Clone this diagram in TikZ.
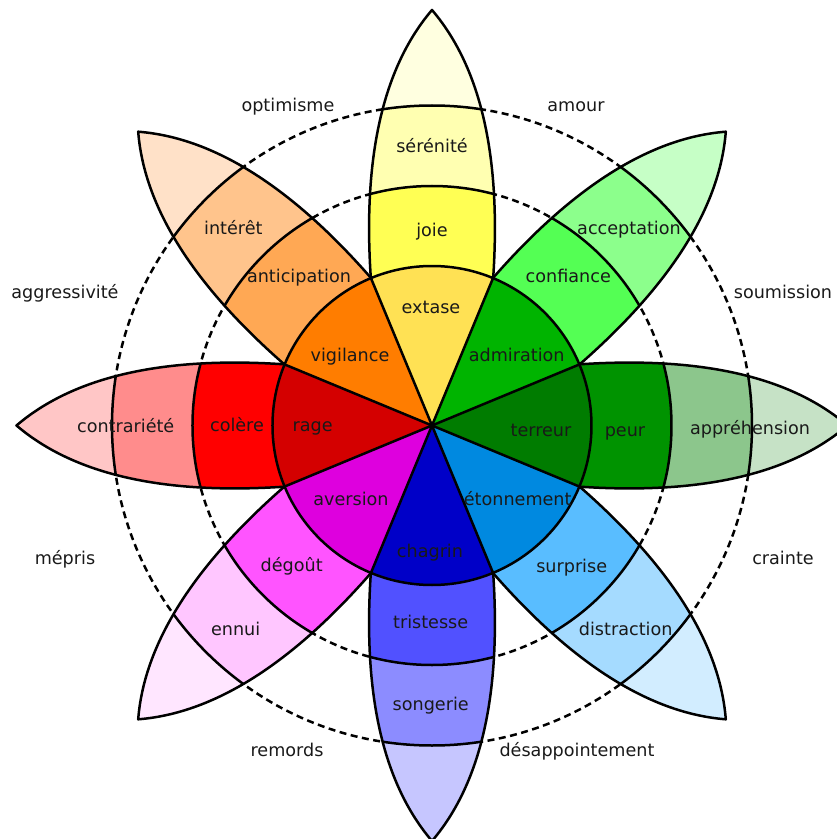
\documentclass[tikz,border=0pt]{standalone}
\usepackage{fontspec}
\setmainfont{DejaVu Sans}
\definecolor{tJoie}{HTML}{FFFFE0}\definecolor{bJoie}{HTML}{FFFFB1}\definecolor{aJoie}{HTML}{FFFF54}\definecolor{wJoie}{HTML}{FFE154}
\definecolor{tConf}{HTML}{C6FFC6}\definecolor{bConf}{HTML}{8CFF8C}\definecolor{aConf}{HTML}{54FF54}\definecolor{wConf}{HTML}{00B400}
\definecolor{tPeur}{HTML}{C6E2C6}\definecolor{bPeur}{HTML}{8CC68C}\definecolor{aPeur}{HTML}{009300}\definecolor{wPeur}{HTML}{007C00}
\definecolor{tSurp}{HTML}{D2EDFF}\definecolor{bSurp}{HTML}{A5DBFF}\definecolor{aSurp}{HTML}{59BDFF}\definecolor{wSurp}{HTML}{0089E0}
\definecolor{tTris}{HTML}{C6C6FF}\definecolor{bTris}{HTML}{8C8CFF}\definecolor{aTris}{HTML}{5151FF}\definecolor{wTris}{HTML}{0000C8}
\definecolor{tDeg}{HTML}{FFE6FF}\definecolor{bDeg}{HTML}{FFC6FF}\definecolor{aDeg}{HTML}{FF54FF}\definecolor{wDeg}{HTML}{DE00DE}
\definecolor{tCol}{HTML}{FFC6C6}\definecolor{bCol}{HTML}{FF8C8C}\definecolor{aCol}{HTML}{FF0000}\definecolor{wCol}{HTML}{D40000}
\definecolor{tAnt}{HTML}{FFE1C8}\definecolor{bAnt}{HTML}{FFC48C}\definecolor{aAnt}{HTML}{FFA854}\definecolor{wAnt}{HTML}{FF7D00}
\tikzset{
  lbl/.style={font=\fontsize{17.6}{20}\selectfont, text height=0.545em, text depth=0pt, inner sep=0pt, text=black!90, yshift=-4pt},
  edgeline/.style={line width=2.5pt, line join=round, draw=black},
  dashring/.style={line width=2.5pt, dash pattern=on 7pt off 4.5pt, draw=black},
}
\newcommand\plutpetalpath{(0,0) -- (61.2,147.8) .. controls (68,250) and (56,350) .. (0,415.5) .. controls (-56,350) and (-68,250) .. (-61.2,147.8) -- cycle}
\newcommand\plutpetal[4]{%
  \begin{scope}[rotate=#1-90]
    \fill[#2] \plutpetalpath;
    \begin{scope}
      \clip \plutpetalpath;
      \fill[#3] (0,0) circle[radius=320];
      \fill[#4] (0,0) circle[radius=239.5];
      \draw[edgeline] (0,0) circle[radius=320] (0,0) circle[radius=239.5];
    \end{scope}
    \draw[edgeline] \plutpetalpath;
  \end{scope}}
\newcommand\plutwedge[2]{%
  \fill[#2] (0,0) -- (#1-22.5:159.5) arc[start angle=#1-22.5, end angle=#1+22.5, radius=159.5] -- cycle;}
\begin{document}
\begin{tikzpicture}[x=1pt,y=1pt]
\useasboundingbox (-432,-413.5) rectangle (405,425.5);
% dashed rings
\draw[dashring] (0,0) circle[radius=239.5];
\draw[dashring] (0,0) circle[radius=320];
% petals
\plutpetal{90}{tJoie}{bJoie}{aJoie}
\plutpetal{45}{tConf}{bConf}{aConf}
\plutpetal{0}{tPeur}{bPeur}{aPeur}
\plutpetal{-45}{tSurp}{bSurp}{aSurp}
\plutpetal{-90}{tTris}{bTris}{aTris}
\plutpetal{-135}{tDeg}{bDeg}{aDeg}
\plutpetal{180}{tCol}{bCol}{aCol}
\plutpetal{135}{tAnt}{bAnt}{aAnt}
% inner wedges
\plutwedge{90}{wJoie}
\plutwedge{45}{wConf}
\plutwedge{0}{wPeur}
\plutwedge{-45}{wSurp}
\plutwedge{-90}{wTris}
\plutwedge{-135}{wDeg}
\plutwedge{180}{wCol}
\plutwedge{135}{wAnt}
\foreach \a in {22.5,67.5,...,337.5} \draw[edgeline] (0,0) -- (\a:159.5);
\draw[edgeline] (0,0) circle[radius=159.5];
% dyad labels
\node[lbl] (optimisme) at (-144,320.5) {optimisme};
\node[lbl] (amour) at (144,320.5) {amour};
\node[lbl] (aggressivite) at (-367,133.5) {aggressivité};
\node[lbl] (soumission) at (351,133.5) {soumission};
\node[lbl] (mepris) at (-367,-132.5) {mépris};
\node[lbl] (crainte) at (351,-132.5) {crainte};
\node[lbl] (remords) at (-145,-324.5) {remords};
\node[lbl] (desappointement) at (145,-324.5) {désappointement};
% petal labels
\node[lbl] (serenite) at (0,279.5) {sérénité};
\node[lbl] (joie) at (0,195.5) {joie};
\node[lbl] (extase) at (-1,119) {extase};
\node[lbl] (acceptation) at (197,198.2) {acceptation};
\node[lbl] (confiance) at (136.3,149.5) {confiance};
\node[lbl] (admiration) at (84.7,70.5) {admiration};
\node[lbl] (apprehension) at (318,-1.8) {appréhension};
\node[lbl] (peur) at (193,-4.5) {peur};
\node[lbl] (terreur) at (109,-3.8) {terreur};
\node[lbl] (distraction) at (193.7,-203.5) {distraction};
\node[lbl] (surprise) at (139.7,-140.5) {surprise};
\node[lbl] (etonnement) at (85.7,-72.8) {étonnement};
\node[lbl] (songerie) at (-1.3,-278.5) {songerie};
\node[lbl] (tristesse) at (-1.3,-196.2) {tristesse};
\node[lbl] (chagrin) at (-2,-125.2) {chagrin};
\node[lbl] (ennui) at (-196.3,-203.5) {ennui};
\node[lbl] (degout) at (-140.3,-139.5) {dégoût};
\node[lbl] (aversion) at (-81,-72.8) {aversion};
\node[lbl] (contrariete) at (-306.3,-0.5) {contrariété};
\node[lbl] (colere) at (-195,0.5) {colère};
\node[lbl] (rage) at (-119.3,0.5) {rage};
\node[lbl] (interet) at (-198.7,198.2) {intérêt};
\node[lbl] (anticipation) at (-133,149.5) {anticipation};
\node[lbl] (vigilance) at (-82,70.5) {vigilance};
\end{tikzpicture}
\end{document}
